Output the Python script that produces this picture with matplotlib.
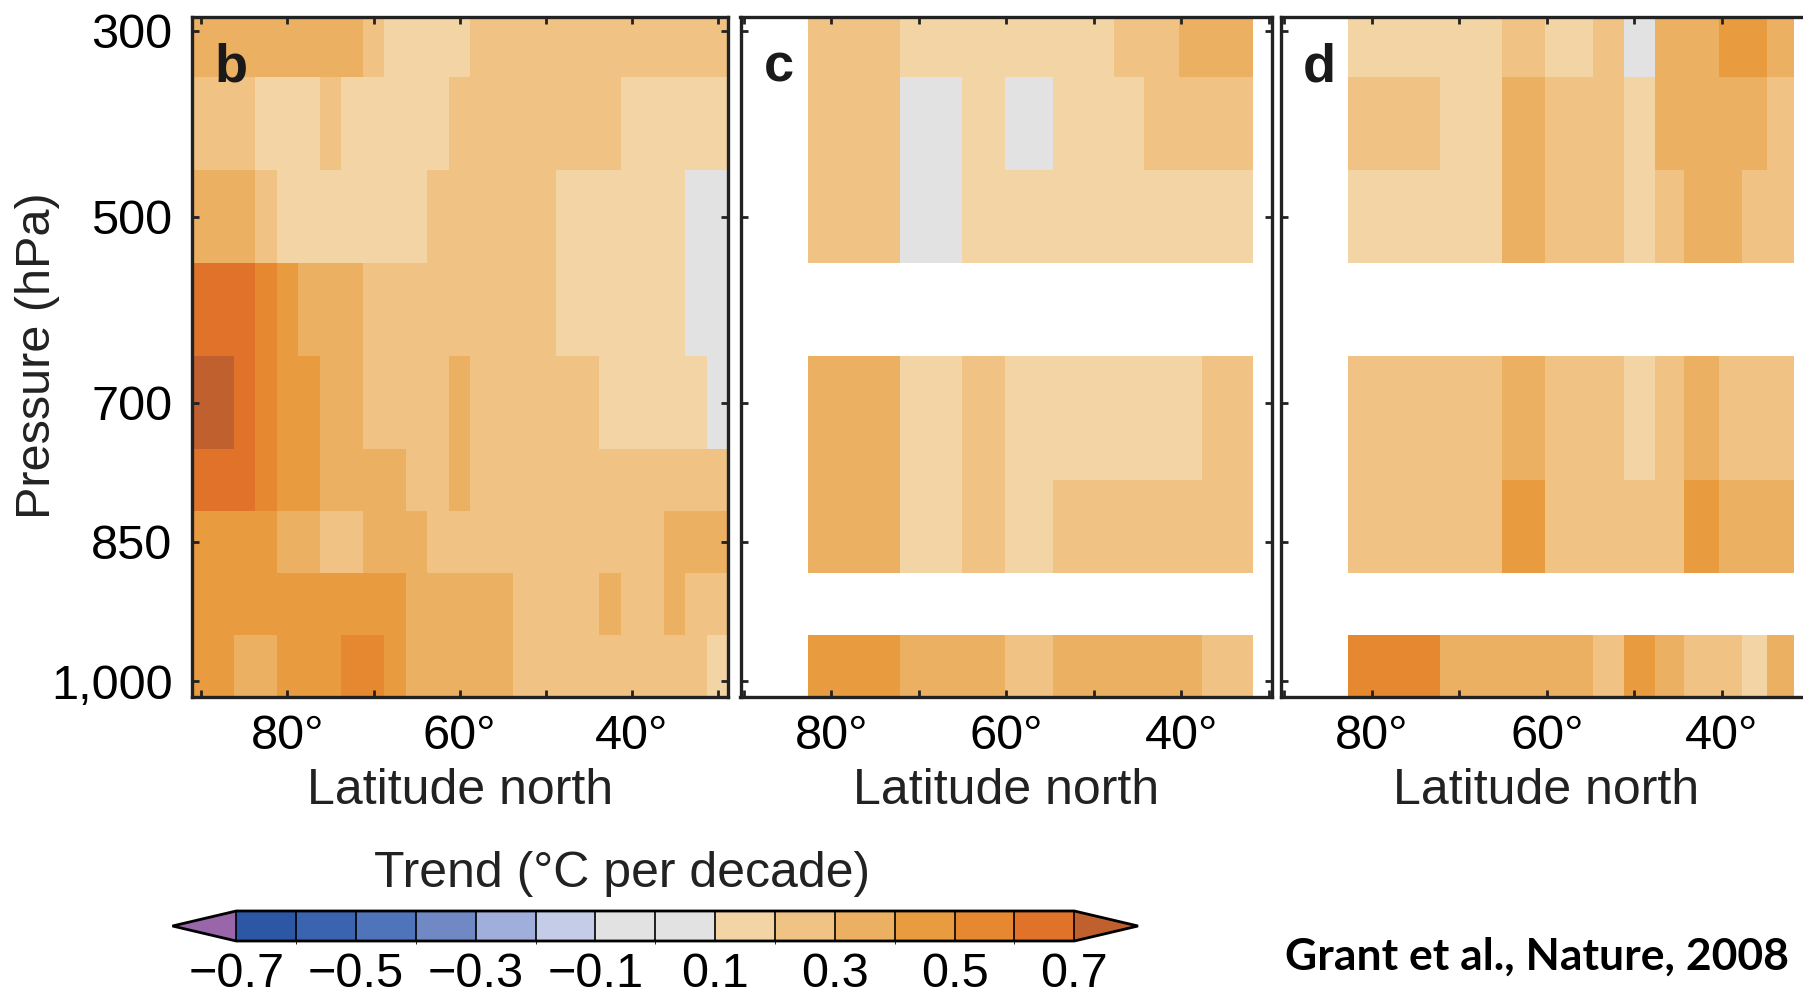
import numpy as np
import matplotlib.pyplot as plt
from matplotlib.colors import ListedColormap, BoundaryNorm

plt.rcParams['font.family'] = ['Liberation Sans', 'DejaVu Sans']

# Trend colour classes (degC per decade)
levels = [-0.7, -0.6, -0.5, -0.4, -0.3, -0.2, -0.1, 0.0, 0.1, 0.2, 0.3, 0.4, 0.5, 0.6, 0.7]
class_colors = ['#2c57a5', '#3a63b0', '#5074b9', '#7088c4', '#a0aedb', '#c4cce8', '#e2e2e2',
                '#e2e2e2', '#f3d4a5', '#f0c283', '#ecb063', '#e99b40', '#e5882f', '#e07229']
under_color = '#9966aa'
over_color = '#c0602e'
cbar_ticks = [-0.7, -0.5, -0.3, -0.1, 0.1, 0.3, 0.5, 0.7]
cbar_ticklabels = ['\u22120.7', '\u22120.5', '\u22120.3', '\u22120.1', '0.1', '0.3', '0.5', '0.7']

# Pressure axis
p_ticks = [300, 500, 700, 850, 1000]
p_ticklabels = ['300', '500', '700', '850', '1,000']
lat_ticks = [80, 60, 40]
lat_ticklabels = ['80\u00b0', '60\u00b0', '40\u00b0']

# Panel b: 2.5 degree latitude bands, 90N..30N, rows top (300 hPa) to bottom (1000 hPa)
b_lat = np.arange(90, 29, -2.5)
b_p_edges = [285, 350, 450, 550, 650, 750, 817, 883, 950, 1017]
b_trend = [
    [.35, .35, .35, .35, .35, .35, .35, .35, .25, .15, .15, .15, .15, .25, .25, .25, .25, .25, .25, .25, .25, .25, .25, .25, .25],
    [.25, .25, .25, .15, .15, .15, .25, .15, .15, .15, .15, .15, .25, .25, .25, .25, .25, .25, .25, .25, .15, .15, .15, .15, .15],
    [.35, .35, .35, .25, .15, .15, .15, .15, .15, .15, .15, .25, .25, .25, .25, .25, .25, .15, .15, .15, .15, .15, .15, .05, .05],
    [.65, .65, .65, .55, .45, .35, .35, .35, .25, .25, .25, .25, .25, .25, .25, .25, .25, .15, .15, .15, .15, .15, .15, .05, .05],
    [.75, .75, .65, .55, .45, .45, .35, .35, .25, .25, .25, .25, .35, .25, .25, .25, .25, .25, .25, .15, .15, .15, .15, .15, .05],
    [.65, .65, .65, .55, .45, .45, .35, .35, .35, .35, .25, .25, .35, .25, .25, .25, .25, .25, .25, .25, .25, .25, .25, .25, .25],
    [.45, .45, .45, .45, .35, .35, .25, .25, .35, .35, .35, .25, .25, .25, .25, .25, .25, .25, .25, .25, .25, .25, .35, .35, .35],
    [.45, .45, .45, .45, .45, .45, .45, .45, .45, .45, .35, .35, .35, .35, .35, .25, .25, .25, .25, .35, .25, .25, .35, .25, .25],
    [.45, .45, .35, .35, .45, .45, .45, .55, .55, .45, .35, .35, .35, .35, .35, .25, .25, .25, .25, .25, .25, .25, .25, .25, .15],
]

# Panels c and d: station latitude bands; missing levels (600 and 925 hPa) left blank
cd_lat_edges = [82.7, 72.2, 65.1, 60.2, 54.7, 51.2, 47.7, 44.3, 40.3, 37.7, 34.9, 31.8]
cd_p_edges = [285, 350, 450, 550, 650, 783, 883, 950, 1017]
nan = np.nan
c_trend = [
    [.25, .15, .15, .15, .15, .15, .25, .25, .35, .35, .35],
    [.25, .05, .15, .05, .15, .15, .15, .25, .25, .25, .25],
    [.25, .05, .15, .15, .15, .15, .15, .15, .15, .15, .15],
    [nan] * 11,
    [.35, .15, .25, .15, .15, .15, .15, .15, .15, .25, .25],
    [.35, .15, .25, .15, .25, .25, .25, .25, .25, .25, .25],
    [nan] * 11,
    [.45, .35, .35, .25, .35, .35, .35, .35, .35, .25, .25],
]
d_trend = [
    [.15, .15, .25, .15, .25, .05, .35, .35, .45, .45, .35],
    [.25, .15, .35, .25, .25, .15, .35, .35, .35, .35, .25],
    [.15, .15, .35, .25, .25, .15, .25, .35, .35, .25, .25],
    [nan] * 11,
    [.25, .25, .35, .25, .25, .15, .25, .35, .25, .25, .25],
    [.25, .25, .45, .25, .25, .25, .25, .45, .35, .35, .35],
    [nan] * 11,
    [.55, .35, .35, .35, .25, .45, .35, .25, .25, .15, .35],
]

cmap = ListedColormap(class_colors)
cmap.set_under(under_color)
cmap.set_over(over_color)
cmap.set_bad('white')
norm = BoundaryNorm(levels, cmap.N)

fs = 35
fig = plt.figure(figsize=(18.03, 9.94), dpi=100)

ax_b = fig.add_axes([192 / 1803, 1 - 697 / 994, 536 / 1803, 680 / 994])
ax_c = fig.add_axes([740.5 / 1803, 1 - 697 / 994, 531 / 1803, 680 / 994])
ax_d = fig.add_axes([1281 / 1803, 1 - 697 / 994, 531 / 1803, 680 / 994])

b_lat_edges = np.append(b_lat + 1.25, b_lat[-1] - 1.25)
mesh = ax_b.pcolormesh(b_lat_edges, b_p_edges, np.array(b_trend), cmap=cmap, norm=norm)
ax_c.pcolormesh(cd_lat_edges, cd_p_edges, np.ma.masked_invalid(c_trend), cmap=cmap, norm=norm)
ax_d.pcolormesh(cd_lat_edges, cd_p_edges, np.ma.masked_invalid(d_trend), cmap=cmap, norm=norm)

ax_b.set_xlim(91.1, 28.8)
ax_c.set_xlim(90.4, 29.7)
ax_d.set_xlim(90.4, 29.7)

for ax, letter in zip([ax_b, ax_c, ax_d], ['b', 'c', 'd']):
    ax.set_ylim(1017, 285)
    ax.set_yticks(p_ticks)
    ax.set_xticks(lat_ticks)
    ax.set_xticks([90, 70, 50, 30], minor=True)
    ax.set_xticklabels(lat_ticklabels, fontsize=fs)
    ax.tick_params(which='both', direction='in', top=True, right=True,
                   length=5, width=2, color='#222222', pad=12)
    ax.tick_params(axis='y', labelsize=fs, pad=14)
    ax.set_xlabel('Latitude north', fontsize=36, labelpad=7, color='#222222')
    for s in ax.spines.values():
        s.set_linewidth(2.4)
        s.set_color('#222222')
    ax.text(0.072, 0.925, letter, transform=ax.transAxes, fontsize=39,
            fontweight='bold', ha='center', va='center', color='#1a1a1a')

ax_b.set_yticklabels(p_ticklabels)
ax_c.set_yticklabels([])
ax_d.set_yticklabels([])

fig.text(38 / 1803, 1 - 356 / 994, 'Pressure (hPa)', rotation=90, fontsize=fs,
         ha='center', va='center', color='#222222')

# Colour bar with triangular end caps
cax = fig.add_axes([172.5 / 1803, 1 - 941 / 994, 965.5 / 1803, 30 / 994])
cb = fig.colorbar(mesh, cax=cax, orientation='horizontal', extend='both',
                  extendfrac=0.076, drawedges=True, ticks=cbar_ticks)
cb.set_ticklabels(cbar_ticklabels)
cb.ax.tick_params(length=0, labelsize=fs, pad=8)
cb.outline.set_linewidth(2)
cb.dividers.set_linewidth(1.2)
fig.text(622 / 1803, 1 - 874 / 994, 'Trend (\u00b0C per decade)', fontsize=36,
         ha='center', va='center', color='#222222')

fig.text(1537 / 1803, 1 - 957 / 994, 'Grant et al., Nature, 2008', fontsize=32,
         fontweight='bold', family=['Lato', 'DejaVu Sans'], ha='center', va='center')

fig.savefig('out.png', dpi=100)
